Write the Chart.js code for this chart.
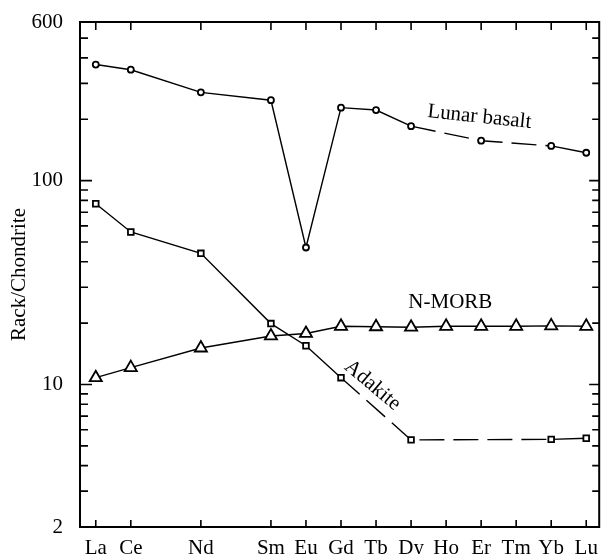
<!DOCTYPE html>
<html>
<head>
<meta charset="utf-8">
<script src="https://cdn.jsdelivr.net/npm/chart.js@4.4.0/dist/chart.umd.min.js"></script>
<style>
  html, body { margin: 0; padding: 0; background: #fff; }
  #wrap { width: 608px; height: 554px; }
</style>
</head>
<body>
<div id="wrap"><canvas id="ree" width="608" height="554"></canvas></div>
<script>
// Chondrite-normalised REE patterns
const elements = ['La', 'Ce', 'Pr', 'Nd', 'Pm', 'Sm', 'Eu', 'Gd', 'Tb', 'Dy', 'Ho', 'Er', 'Tm', 'Yb', 'Lu'];
const shownElements = ['La', 'Ce', 'Nd', 'Sm', 'Eu', 'Gd', 'Tb', 'Dy', 'Ho', 'Er', 'Tm', 'Yb', 'Lu'];
const unplotted = ['Pr', 'Pm'];

const lunarBasalt = [371, 350, null, 271, null, 248, 47, 228, 222, 185, null, 157, null, 148, 137];
const adakite = [77, 56, null, 44, null, 19.9, 15.5, 10.8, null, 5.35, null, null, null, 5.38, 5.45];
const nMorb = [10.8, 12.1, null, 15.1, null, 17.3, 17.8, 19.3, 19.2, 19.1, 19.3, 19.3, 19.3, 19.4, 19.3];

const yTicks = [2, 3, 4, 5, 6, 7, 8, 9, 10, 20, 30, 40, 50, 60, 70, 80, 90, 100, 200, 300, 400, 500, 600];
const yLabelled = [2, 10, 100, 600];
const yMajor = [10, 100];

// series names written on the plot: [text, element index, value, angle in degrees]
const seriesLabels = [
  ['Lunar basalt', 10.95, 205, 6],
  ['N-MORB', 10.12, 25.2, 0],
  ['Adakite', 7.9, 9.9, 40]
];

const FONT = { family: 'Liberation Serif', size: 21 };

// only measured elements become points, so neighbours in the list are neighbours on the line
function toPoints(values) {
  const pts = [];
  values.forEach((v, i) => { if (v !== null) pts.push({ x: i, y: v }); });
  return pts;
}

const seriesPoints = [toPoints(lunarBasalt), toPoints(adakite), toPoints(nMorb)];

// dash a segment when it jumps over an element that was measured for other samples
function skipsMeasured(ctx) {
  const pts = seriesPoints[ctx.datasetIndex];
  const a = pts[ctx.p0DataIndex], b = pts[ctx.p1DataIndex];
  if (!a || !b) return false;
  for (let i = a.x + 1; i < b.x; i++) {
    if (!unplotted.includes(elements[i])) return true;
  }
  return false;
}

function makeSet(label, pts, style, radius) {
  return {
    label: label,
    data: pts,
    borderColor: '#000',
    borderWidth: 1.4,
    pointStyle: style,
    pointRadius: radius,
    pointBorderWidth: 1.8,
    pointBackgroundColor: '#fff',
    pointBorderColor: '#000',
    tension: 0,
    segment: { borderDash: ctx => skipsMeasured(ctx) ? [25, 9] : undefined }
  };
}

const frame = {
  id: 'frame',
  afterDatasetsDraw(chart) {
    const { ctx, chartArea: a, scales } = chart;
    const x = scales.x, y = scales.y;
    ctx.save();
    ctx.strokeStyle = '#000';
    ctx.lineWidth = 2;
    ctx.strokeRect(a.left, a.top, a.right - a.left, a.bottom - a.top);
    ctx.lineWidth = 1.6;
    ctx.beginPath();
    shownElements.forEach(el => {
      const px = x.getPixelForValue(elements.indexOf(el));
      ctx.moveTo(px, a.bottom); ctx.lineTo(px, a.bottom - 7);
      ctx.moveTo(px, a.top); ctx.lineTo(px, a.top + 8);
    });
    yTicks.forEach(v => {
      const py = y.getPixelForValue(v);
      const major = yMajor.includes(v);
      ctx.moveTo(a.left, py); ctx.lineTo(a.left + (major ? 12 : 8), py);
      ctx.moveTo(a.right, py); ctx.lineTo(a.right - (major ? 10 : 7), py);
    });
    ctx.stroke();

    ctx.fillStyle = '#000';
    ctx.font = FONT.size + 'px ' + FONT.family;
    ctx.textAlign = 'center';
    ctx.textBaseline = 'middle';
    seriesLabels.forEach(([text, xi, yv, ang]) => {
      ctx.save();
      ctx.translate(x.getPixelForValue(xi), y.getPixelForValue(yv));
      ctx.rotate(ang * Math.PI / 180);
      ctx.fillText(text, 0, 0);
      ctx.restore();
    });
    ctx.restore();
  }
};

new Chart(document.getElementById('ree'), {
  type: 'line',
  data: {
    datasets: [
      makeSet('Lunar basalt', seriesPoints[0], 'circle', 3),
      makeSet('Adakite', seriesPoints[1], 'rect', 4),
      makeSet('N-MORB', seriesPoints[2], 'triangle', 7)
    ]
  },
  options: {
    responsive: false,
    animation: false,
    layout: { padding: { top: 22, right: 1, bottom: 0, left: 0 } },
    plugins: { legend: { display: false }, tooltip: { enabled: false } },
    scales: {
      x: {
        type: 'linear',
        min: -0.45,
        max: 14.37,
        grid: { display: false },
        border: { display: false },
        afterBuildTicks: s => { s.ticks = shownElements.map(el => ({ value: elements.indexOf(el) })); },
        afterFit: s => { s.height = 27; },
        ticks: {
          autoSkip: false,
          maxRotation: 0,
          padding: 1,
          color: '#000',
          font: FONT,
          callback: v => elements[v]
        }
      },
      y: {
        type: 'logarithmic',
        min: 2,
        max: 600,
        grid: { display: false },
        border: { display: false },
        afterBuildTicks: s => { s.ticks = yTicks.map(v => ({ value: v })); },
        afterFit: s => { s.width = 80; },
        ticks: {
          autoSkip: false,
          padding: 9,
          color: '#000',
          font: FONT,
          callback: v => yLabelled.includes(v) ? String(v) : ''
        },
        title: {
          display: true,
          text: 'Rack/Chondrite',
          color: '#000',
          font: FONT,
          padding: { top: 7, bottom: 0 }
        }
      }
    }
  },
  plugins: [frame]
});
</script>
</body>
</html>
